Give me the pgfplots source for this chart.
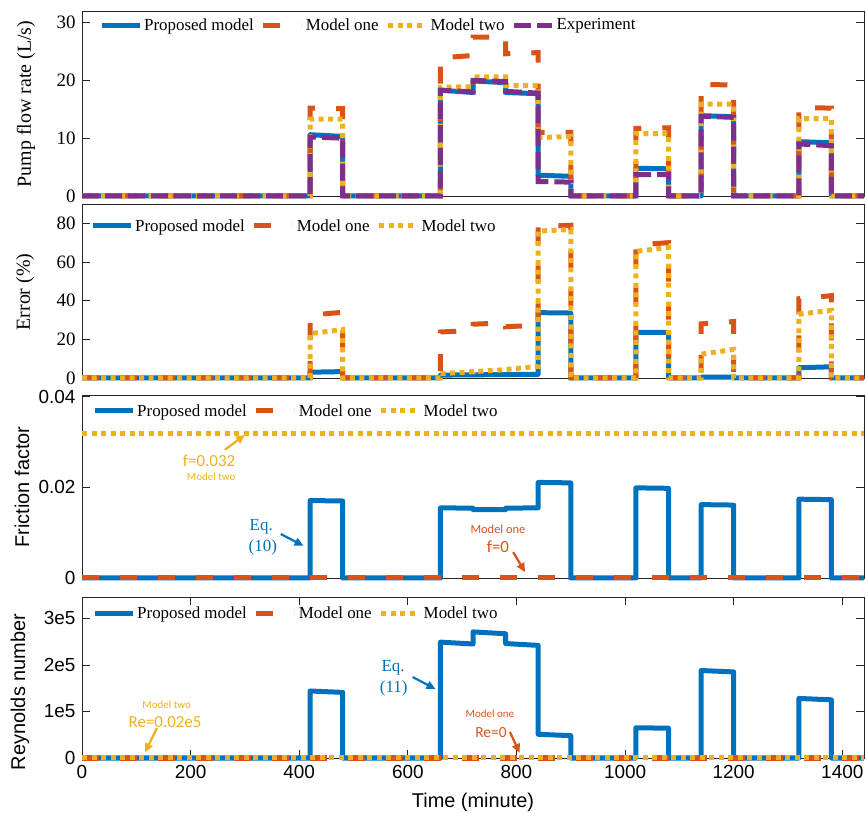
\documentclass[border=0pt]{standalone}
\usepackage{fontspec}
\setmainfont{Liberation Serif}
\newfontfamily\arial{Liberation Sans}
\newfontfamily\calib{Carlito}
\usepackage{pgfplots}
\pgfplotsset{compat=1.18}
\usetikzlibrary{arrows.meta}

\definecolor{mblue}{RGB}{0,114,189}
\definecolor{morange}{RGB}{217,83,25}
\definecolor{myellow}{RGB}{237,177,32}
\definecolor{mpurple}{RGB}{126,47,142}
\definecolor{axgray}{RGB}{38,38,38}

\pgfplotsset{
  panel/.style={
    scale only axis, width=782bp, xmin=0, xmax=1440, clip=false,
    axis line style={axgray, line width=0.8bp},
    tick style={axgray, line width=0.8bp},
    tick align=inside, major tick length=8bp,
    xtick=\empty, scaled y ticks=false,
    /pgf/number format/assume math mode=true,
    /pgf/number format/1000 sep={},
    legend style={draw=none, fill=none, inner sep=0pt, anchor=west,
      legend columns=-1, font=\fontsize{17}{19}\selectfont,
      nodes={inner xsep=1bp, inner ysep=0bp},
      /tikz/every odd column/.append style={column sep=1bp},
      /tikz/every even column/.append style={column sep=6bp}},
    legend image code/.code={\draw[##1] (0bp,0bp) -- (38bp,0bp);},
  },
  serifticks/.style={yticklabel style={font=\fontsize{19}{20}\selectfont, xshift=-3bp}},
  sansticks/.style={yticklabel style={font=\arial\fontsize{19}{20}\selectfont, xshift=-3bp}},
  prop/.style={mblue, line width=5bp, line join=round},
  mone/.style={morange, line width=5bp, dash pattern=on 17bp off 21bp},
  mtwo/.style={myellow, line width=5bp, dash pattern=on 5bp off 4.5bp},
  expt/.style={mpurple, line width=5bp, dash pattern=on 17bp off 6bp},
}

\begin{document}
\begin{tikzpicture}
\useasboundingbox (0bp,0bp) rectangle (866bp,817bp);

% ---- Pump flow rate
\begin{axis}[panel, serifticks, at={(82bp,621bp)}, anchor=south west, height=185bp,
  ymin=0, ymax=32, ytick={0,10,20,30},
  legend style={at={(axis description cs:0.0217,0.924)}}]
\addplot[prop] coordinates {(0,0)(420,0)(420,10.6)(480,10.3)(480,0)(660,0)(660,18.3)(720,17.9)(720,19.9)(780,19.6)(780,17.9)(840,17.7)(840,3.6)(900,3.4)(900,0)(1020,0)(1020,4.8)(1080,4.7)(1080,0)(1140,0)(1140,13.9)(1200,13.7)(1200,0)(1320,0)(1320,9.4)(1380,9.2)(1380,0)(1440,0)};
\addplot[mone] coordinates {(0,0)(420,0)(420,15.2)(480,15.1)(480,0)(660,0)(660,23.9)(720,24.3)(720,27.5)(780,27.5)(780,24.6)(840,24.8)(840,11.0)(900,11.0)(900,0)(1020,0)(1020,11.7)(1080,11.8)(1080,0)(1140,0)(1140,19.3)(1200,19.2)(1200,0)(1320,0)(1320,15.3)(1380,15.2)(1380,0)(1440,0)};
\addplot[mtwo] coordinates {(0,0)(420,0)(420,13.3)(480,13.3)(480,0)(660,0)(660,18.8)(720,18.9)(720,20.6)(780,20.6)(780,19.1)(840,19.1)(840,10.1)(900,10.3)(900,0)(1020,0)(1020,10.8)(1080,10.8)(1080,0)(1140,0)(1140,15.9)(1200,15.9)(1200,0)(1320,0)(1320,13.4)(1380,13.4)(1380,0)(1440,0)};
\addplot[expt] coordinates {(0,0)(420,0)(420,10.2)(480,10.0)(480,0)(660,0)(660,18.3)(720,18.0)(720,20.0)(780,19.8)(780,18.1)(840,17.8)(840,2.5)(900,2.4)(900,0)(1020,0)(1020,3.7)(1080,3.7)(1080,0)(1140,0)(1140,13.8)(1200,13.6)(1200,0)(1320,0)(1320,9.0)(1380,8.7)(1380,0)(1440,0)};
\legend{Proposed model, Model one, Model two, Experiment}
\end{axis}

% ---- Error
\begin{axis}[panel, serifticks, at={(82bp,439bp)}, anchor=south west, height=174bp,
  ymin=0, ymax=90, ytick={0,20,40,60,80},
  legend style={at={(axis description cs:0.0102,0.8736)}}]
\addplot[prop] coordinates {(0,0)(420,0)(420,3.0)(480,3.3)(480,0)(660,0)(660,1.5)(840,1.9)(840,33.8)(900,33.6)(900,0)(1020,0)(1020,23.6)(1080,23.6)(1080,0)(1140,0)(1140,0.4)(1200,0.4)(1200,0)(1320,0)(1320,5.3)(1380,5.8)(1380,0)(1440,0)};
\addplot[mone] coordinates {(0,0)(420,0)(420,32.5)(480,34.0)(480,0)(660,0)(660,23.8)(720,24.6)(720,27.8)(780,28.6)(780,26.5)(840,27.3)(840,78.3)(900,79.0)(900,0)(1020,0)(1020,68.8)(1080,70.0)(1080,0)(1140,0)(1140,28.0)(1200,29.2)(1200,0)(1320,0)(1320,41.0)(1380,42.6)(1380,0)(1440,0)};
\addplot[mtwo] coordinates {(0,0)(420,0)(420,23.0)(480,25.0)(480,0)(660,0)(660,2.3)(720,3.2)(720,3.3)(780,4.3)(780,4.4)(840,6.0)(840,76.0)(900,76.8)(900,0)(1020,0)(1020,65.5)(1080,67.5)(1080,0)(1140,0)(1140,12.3)(1200,14.8)(1200,0)(1320,0)(1320,33.0)(1380,35.0)(1380,0)(1440,0)};
\legend{Proposed model, Model one, Model two}
\end{axis}

% ---- Friction factor
\begin{axis}[panel, sansticks, at={(82bp,239bp)}, anchor=south west, height=183bp,
  ymin=0, ymax=0.0404, ytick={0,0.02,0.04}, yticklabels={0,0.02,0.04},
  legend style={at={(axis description cs:0.0128,0.9126)}}]
\addplot[prop] coordinates {(0,0)(420,0)(420,0.0171)(480,0.0170)(480,0)(660,0)(660,0.0155)(720,0.0154)(720,0.0151)(780,0.0151)(780,0.0154)(840,0.0155)(840,0.0211)(900,0.0210)(900,0)(1020,0)(1020,0.0199)(1080,0.0198)(1080,0)(1140,0)(1140,0.0162)(1200,0.0161)(1200,0)(1320,0)(1320,0.0174)(1380,0.0173)(1380,0)(1440,0)};
\addplot[mone] coordinates {(0,0)(1440,0)};
\addplot[mtwo] coordinates {(0,0.032)(1440,0.032)};
\legend{Proposed model, Model one, Model two}
\node[font=\calib\fontsize{17}{18}\selectfont, text=myellow] at (axis cs:234,0.0258) {f=0.032};
\node[font=\calib\fontsize{11}{12}\selectfont, text=myellow] at (axis cs:238,0.0223) {Model two};
\draw[myellow, line width=2.2bp, -{Triangle[length=9bp,width=8bp]}] (axis cs:263,0.0283) -- (axis cs:300,0.0316);
\node[font=\fontsize{17}{18}\selectfont, text=mblue] at (axis cs:330,0.0113) {Eq.};
\node[font=\fontsize{17}{18}\selectfont, text=mblue] at (axis cs:333,0.0068) {(10)};
\draw[mblue, line width=2.2bp, -{Triangle[length=9bp,width=8bp]}] (axis cs:366,0.0097) -- (axis cs:408,0.0071);
\node[font=\calib\fontsize{12.5}{13}\selectfont, text=morange] at (axis cs:766,0.0108) {Model one};
\node[font=\calib\fontsize{17}{18}\selectfont, text=morange] at (axis cs:766,0.0068) {f=0};
\draw[morange, line width=2.2bp, -{Triangle[length=9bp,width=8bp]}] (axis cs:794,0.0057) -- (axis cs:816,0.0013);
\end{axis}

% ---- Reynolds number
\begin{axis}[panel, sansticks, at={(82bp,59bp)}, anchor=south west, height=161bp,
  ymin=0, ymax=346000, ytick={0,100000,200000,300000}, yticklabels={0,1e5,2e5,3e5},
  xtick={0,200,400,600,800,1000,1200,1400},
  xticklabel style={font=\arial\fontsize{19}{20}\selectfont, yshift=-4bp},
  legend style={at={(axis description cs:0.0128,0.9006)}}]
\addplot[prop] coordinates {(0,0)(420,0)(420,144000)(480,141000)(480,0)(660,0)(660,249000)(720,245000)(720,271000)(780,267000)(780,246000)(840,242000)(840,51000)(900,48000)(900,0)(1020,0)(1020,65000)(1080,64000)(1080,0)(1140,0)(1140,188000)(1200,185000)(1200,0)(1320,0)(1320,128000)(1380,125000)(1380,0)(1440,0)};
\addplot[mone] coordinates {(0,0)(1440,0)};
\addplot[mtwo] coordinates {(0,2000)(1440,2000)};
\legend{Proposed model, Model one, Model two}
\node[font=\calib\fontsize{11}{12}\selectfont, text=myellow] at (axis cs:156,114000) {Model two};
\node[font=\calib\fontsize{17}{18}\selectfont, text=myellow] at (axis cs:153,77400) {Re=0.02e5};
\draw[myellow, line width=2.2bp, -{Triangle[length=9bp,width=8bp]}] (axis cs:138,64500) -- (axis cs:116,12000);
\node[font=\fontsize{17}{18}\selectfont, text=mblue] at (axis cs:573,193500) {Eq.};
\node[font=\fontsize{17}{18}\selectfont, text=mblue] at (axis cs:574,150500) {(11)};
\draw[mblue, line width=2.2bp, -{Triangle[length=9bp,width=8bp]}] (axis cs:609,174000) -- (axis cs:651,148000);
\node[font=\calib\fontsize{11}{12}\selectfont, text=morange] at (axis cs:751,94600) {Model one};
\node[font=\calib\fontsize{15.5}{17}\selectfont, text=morange] at (axis cs:753,53800) {Re=0};
\draw[morange, line width=2.2bp, -{Triangle[length=9bp,width=8bp]}] (axis cs:788,55900) -- (axis cs:806,10800);
\end{axis}

% axis labels
\node[rotate=90, font=\fontsize{20}{22}\selectfont] at (26bp,713bp) {Pump flow rate (L/s)};
\node[rotate=90, font=\fontsize{20}{22}\selectfont] at (25bp,525bp) {Error (\%)};
\node[rotate=90, font=\arial\fontsize{20}{22}\selectfont] at (22bp,330bp) {Friction factor};
\node[rotate=90, font=\arial\fontsize{20}{22}\selectfont] at (20bp,125bp) {Reynolds number};
\node[font=\arial\fontsize{20}{22}\selectfont] at (473bp,15bp) {Time (minute)};
\end{tikzpicture}
\end{document}
